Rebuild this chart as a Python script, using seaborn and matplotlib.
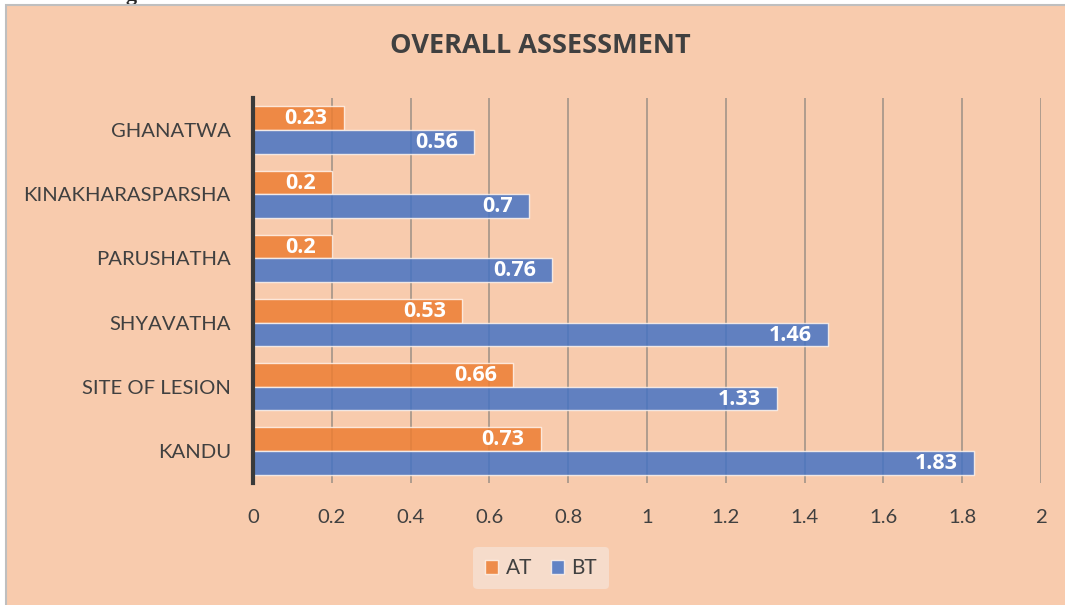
import matplotlib
matplotlib.use("Agg")
import matplotlib.pyplot as plt
import seaborn as sns
import pandas as pd
from matplotlib.patches import Rectangle
from matplotlib.ticker import FuncFormatter

categories = ['GHANATWA', 'KINAKHARASPARSHA', 'PARUSHATHA', 'SHYAVATHA', 'SITE OF LESION', 'KANDU']
at_values = [0.23, 0.2, 0.2, 0.53, 0.66, 0.73]
bt_values = [0.56, 0.7, 0.76, 1.46, 1.33, 1.83]
series = ['AT', 'BT']
colors = ['#ED7D31', '#4472C4']

df = pd.DataFrame({
    'cat': categories * 2,
    'val': at_values + bt_values,
    'grp': ['AT'] * len(categories) + ['BT'] * len(categories),
})

peach = '#F8CBAD'
txt = '#404040'

sns.set_style('white')
plt.rcParams['font.family'] = ['Lato', 'DejaVu Sans']

fig = plt.figure(figsize=(10.65, 6.05), dpi=100)
fig.patch.set_facecolor('white')
fig.patches.append(Rectangle((6 / 1065, -0.01), 1.02, 600 / 605 + 0.01, transform=fig.transFigure,
                             facecolor=peach, edgecolor='#BFBFBF', linewidth=1.5, zorder=-2))
fig.text(138 / 1065, 1.0, 'Fig', fontsize=16, fontweight='bold', family='Liberation Serif',
         ha='right', va='baseline', zorder=-3)

ax = fig.add_axes([253 / 1065, 1 - 483 / 605, (1041 - 253) / 1065, (483 - 98) / 605])
ax.set_zorder(1)
ax.set_facecolor('none')
sns.barplot(data=df, y='cat', x='val', hue='grp', order=categories, hue_order=series,
            palette=colors, orient='h', width=0.74, edgecolor='#FFF4EC', linewidth=1,
            saturation=1, alpha=0.84, ax=ax, zorder=3)

for cont in ax.containers:
    for p, v in zip(cont.patches, cont.datavalues):
        ax.annotate(f'{v:g}', (p.get_x() + p.get_width(), p.get_y() + p.get_height() / 2),
                    xytext=(-11.5, -0.5), textcoords='offset points', ha='right', va='center',
                    color='white', fontsize=15.5, fontweight='bold', family='Open Sans', zorder=4)

ax.set_xlim(0, 2)
ax.set_xticks([i * 0.2 for i in range(11)])
ax.xaxis.set_major_formatter(FuncFormatter(lambda x, pos: f'{round(x, 1):g}'))
ax.grid(axis='x', color='#A39488', linewidth=1.2, zorder=0)
ax.set_axisbelow(True)
for s in ['top', 'right', 'bottom']:
    ax.spines[s].set_visible(False)
ax.spines['left'].set_color('#3A3A3A')
ax.spines['left'].set_linewidth(3)
ax.spines['left'].set_zorder(5)
ax.tick_params(axis='both', length=0, labelsize=14.6, colors=txt)
ax.tick_params(axis='y', pad=16)
ax.tick_params(axis='x', pad=19)
ax.set_xlabel('')
ax.set_ylabel('')

fig.text(540 / 1065, 1 - 46 / 605, 'OVERALL ASSESSMENT', ha='center', va='center',
         fontsize=19.5, fontweight='bold', family='Open Sans', color='#404040')

leg = ax.legend(loc='center', bbox_to_anchor=(541 / 1065, 1 - 568 / 605), bbox_transform=fig.transFigure,
                ncol=2, frameon=True, fontsize=15, handlelength=0.65, handleheight=0.65,
                handletextpad=0.35, columnspacing=0.9, borderpad=0.55)
leg.get_frame().set_facecolor('#F6DCCB')
leg.get_frame().set_edgecolor('none')
leg.get_frame().set_alpha(1)
for t in leg.get_texts():
    t.set_color(txt)

fig.savefig('out.png', dpi=100)
